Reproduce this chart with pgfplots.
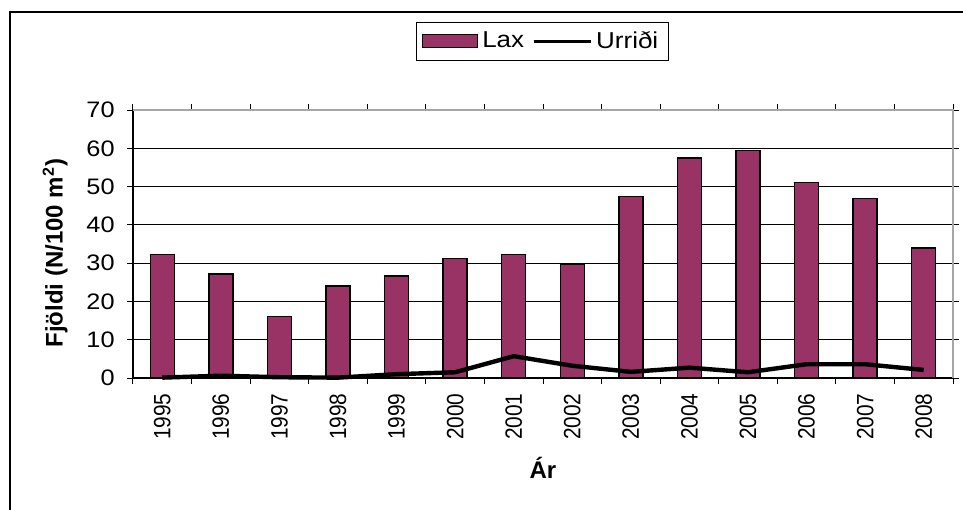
\documentclass[border=0pt]{standalone}
\usepackage{fontspec}
\setmainfont{Liberation Sans}[FakeStretch=1.13]
\newfontfamily\rotfont{Liberation Sans}[FakeStretch=0.885]
\newfontfamily\titlefont{Liberation Sans}
\usepackage{pgfplots}
\pgfplotsset{compat=1.18}
\definecolor{barcol}{RGB}{153,51,102}
\begin{document}
\begin{tikzpicture}
\path[use as bounding box] (-66.5pt,-65.5pt) rectangle (415pt,189pt);
\draw[line width=1pt] (-61.5pt,-70pt) -- (-61.5pt,183pt) -- (420pt,183pt);
\begin{axis}[
  at={(0,0)}, anchor=south west,
  scale only axis, width=410pt, height=134pt,
  xmin=-0.5, xmax=13.5, ymin=0, ymax=70,
  ytick={0,10,...,70},
  ymajorgrids, grid style={black, line width=0.5pt},
  xtick={-0.5,0.5,...,13.5}, xticklabels={},
  extra x ticks={0,1,2,3,4,5,6,7,8,9,10,11,12,13},
  extra x tick labels={1995,1996,1997,1998,1999,2000,2001,2002,2003,2004,2005,2006,2007,2008},
  extra x tick style={major tick length=0pt, grid=none},
  tick align=outside, major tick length=3pt,
  tick style={black, line width=0.5pt},
  axis line style={black, line width=0.6pt},
  /pgf/number format/assume math mode=true,
  yticklabel style={font=\fontsize{11.2}{13}\selectfont, inner sep=0pt, xshift=-6pt},
  xticklabel style={rotate=90, anchor=east, inner sep=0pt, xshift=-7.5pt, font=\rotfont\fontsize{11.8}{14}\selectfont},
  ylabel={Fjöldi (N/100 m\textsuperscript{2})},
  ylabel style={font=\titlefont\bfseries\fontsize{12}{14}\selectfont, at={(axis description cs:-0.095,0.466)}, anchor=center},
  xlabel={Ár},
  xlabel style={font=\titlefont\bfseries\fontsize{12}{14}\selectfont, at={(axis description cs:0.5,-0.336)}, anchor=center},
  legend columns=2,
  legend style={at={(axis description cs:0.499,1.257)}, anchor=center, draw=black, line width=0.5pt,
    font=\fontsize{11.5}{13}\selectfont, inner xsep=3pt, inner ysep=2.5pt,
    /tikz/every even column/.append style={column sep=2pt}},
  clip=false,
]
\addplot[ybar, bar width=0.41, fill=barcol, draw=black, line width=0.75pt,
  legend image code/.code={\draw[fill=barcol, draw=black, line width=0.6pt] (0pt,-3.3pt) rectangle (27.5pt,3.3pt);}]
  coordinates {(0,32.3) (1,27.2) (2,16.1) (3,24.0) (4,26.6) (5,31.2) (6,32.3) (7,29.7) (8,47.4) (9,57.4) (10,59.4) (11,51.1) (12,46.9) (13,33.9)};
\addlegendentry{Lax}
\addplot[black, line width=2.2pt, line join=round, mark=none,
  legend image code/.code={\draw[black, line width=1.5pt] (0pt,0pt) -- (28.5pt,0pt);}]
  coordinates {(0,0.1) (1,0.6) (2,0.2) (3,0.1) (4,1.0) (5,1.5) (6,5.7) (7,3.2) (8,1.6) (9,2.7) (10,1.5) (11,3.6) (12,3.6) (13,2.1)};
\addlegendentry{Urriði}
\draw[color=gray!70, line width=1pt] (rel axis cs:0,1) -- (rel axis cs:1,1) -- (rel axis cs:1,0);
\end{axis}
\end{tikzpicture}
\end{document}
